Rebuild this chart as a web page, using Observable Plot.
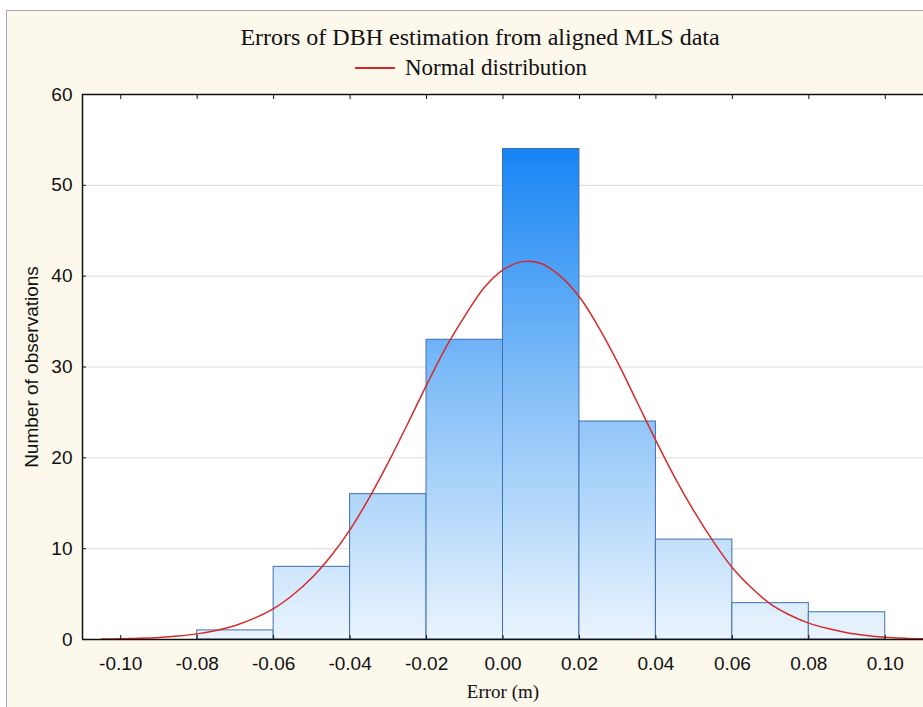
<!DOCTYPE html>
<html>
<head>
<meta charset="utf-8">
<script src="https://cdn.jsdelivr.net/npm/d3@7"></script>
<script src="https://cdn.jsdelivr.net/npm/@observablehq/plot@0.6"></script>
<style>
  body { margin: 0; background: #fff; }
  #wrap { position: relative; width: 923px; height: 707px; overflow: hidden; background: #fff; }
  #panel { position: absolute; left: 6px; top: 10px; width: 917px; height: 697px; background: #fcf8ec;
           border-left: 1px solid #a8a8a8; border-top: 1px solid #a8a8a8; }
  #title { position: absolute; top: 24px; left: 0; width: 960px; text-align: center;
           font-family: "Liberation Serif", serif; font-size: 24px; color: #111; white-space: nowrap; }
  #legend { position: absolute; top: 55px; left: 355px; font-family: "Liberation Serif", serif;
            font-size: 23px; color: #111; white-space: nowrap; display: flex; align-items: center; }
  #legend .swatch { display: inline-block; width: 40px; height: 2px; background: #d42a2a; margin-right: 10px; }
  #chart { position: absolute; left: 0; top: 84px; }
  #xlabel { position: absolute; top: 681px; left: 0; width: 1006px; text-align: center;
            font-family: "Liberation Serif", serif; font-size: 19px; color: #111; white-space: nowrap; }
</style>
</head>
<body>
<div id="wrap">
  <div id="panel"></div>
  <div id="title">Errors of DBH estimation from aligned MLS data</div>
  <div id="legend"><span class="swatch"></span><span>Normal distribution</span></div>
  <div id="chart"></div>
  <div id="xlabel">Error (m)</div>
</div>
<script>
// Histogram bins (m) and counts
const binStart = [-0.08, -0.06, -0.04, -0.02, 0.00, 0.02, 0.04, 0.06, 0.08];
const binEnd   = [-0.06, -0.04, -0.02, 0.00, 0.02, 0.04, 0.06, 0.08, 0.10];
const counts   = [1, 8, 16, 33, 54, 24, 11, 4, 3];

// Normal distribution curve
const curveX = [-0.105, -0.10, -0.095, -0.09, -0.085, -0.08, -0.075, -0.07, -0.065, -0.06, -0.055, -0.05, -0.045, -0.04, -0.035, -0.03, -0.025, -0.02, -0.015, -0.01, -0.005, 0.00, 0.005, 0.01, 0.015, 0.02, 0.025, 0.03, 0.035, 0.04, 0.045, 0.05, 0.055, 0.06, 0.065, 0.07, 0.075, 0.08, 0.085, 0.09, 0.095, 0.10, 0.105, 0.11];
const curveY = [0.05, 0.08, 0.14, 0.23, 0.38, 0.62, 1.0, 1.55, 2.35, 3.4, 4.9, 6.8, 9.2, 12.1, 15.6, 19.5, 23.7, 28.0, 32.1, 35.6, 38.7, 40.7, 41.6, 41.4, 40.0, 37.7, 34.4, 30.5, 26.2, 21.9, 17.8, 14.1, 10.8, 7.9, 5.7, 3.9, 2.7, 1.8, 1.2, 0.75, 0.45, 0.25, 0.14, 0.08];

const xTicks = [-0.10, -0.08, -0.06, -0.04, -0.02, 0.00, 0.02, 0.04, 0.06, 0.08, 0.10];
const yTicks = [0, 10, 20, 30, 40, 50, 60];
const yGrid  = [10, 20, 30, 40, 50];

const bins = binStart.map((s, i) => ({x1: s, x2: binEnd[i], y: counts[i]}));
const curve = curveX.map((x, i) => ({x, y: curveY[i]}));

const plot = Plot.plot({
  width: 923,
  height: 623,
  marginTop: 10,
  marginBottom: 68,
  marginLeft: 82,
  marginRight: 0,
  style: { fontFamily: "Liberation Sans, Arial, sans-serif", fontSize: "19px", color: "#111", background: "transparent", overflow: "visible" },
  x: { domain: [-0.11, 0.11] },
  y: { domain: [0, 60] },
  marks: [
    Plot.frame({ fill: "white", stroke: "none" }),
    Plot.gridY(yGrid, { stroke: "#dcdcdc", strokeOpacity: 1 }),
    Plot.rectY(bins, { x1: "x1", x2: "x2", y: "y", fill: "url(#barGrad)", stroke: "#3f6fae", strokeWidth: 1 }),
    Plot.line(curve, { x: "x", y: "y", stroke: "#d42a2a", strokeWidth: 1.5, curve: "catmull-rom" }),
    Plot.ruleY([0], { stroke: "#111", strokeWidth: 1.5 }),
    Plot.ruleY([60], { stroke: "#111", strokeWidth: 1.5 }),
    Plot.ruleX([-0.11], { stroke: "#111", strokeWidth: 1.5 }),
    Plot.axisX({ anchor: "bottom", ticks: xTicks, tickSize: 0, tickPadding: 17, tickFormat: d => d.toFixed(2), label: null }),
    Plot.axisX({ anchor: "bottom", ticks: xTicks, tickSize: -4, tickFormat: () => "", label: null }),
    Plot.axisX({ anchor: "top", ticks: xTicks, tickSize: -4, tickFormat: () => "", label: null }),
    Plot.axisY({ anchor: "left", ticks: yTicks, tickSize: 0, tickPadding: 10, label: "Number of observations", labelAnchor: "center", labelOffset: 58, labelArrow: "none" }),
    Plot.axisY({ anchor: "left", ticks: yTicks, tickSize: -4, tickFormat: () => "", label: null })
  ]
});

// vertical gradient shared by all bars, in plot coordinates
const ys = plot.scale("y");
const ns = "http://www.w3.org/2000/svg";
const defs = document.createElementNS(ns, "defs");
const grad = document.createElementNS(ns, "linearGradient");
grad.setAttribute("id", "barGrad");
grad.setAttribute("gradientUnits", "userSpaceOnUse");
grad.setAttribute("x1", "0"); grad.setAttribute("x2", "0");
grad.setAttribute("y1", ys.apply(0)); grad.setAttribute("y2", ys.apply(54));
[["0", "#eaf4fd"], ["0.5", "#86c0f8"], ["1", "#1684f4"]].forEach(([o, c]) => {
  const st = document.createElementNS(ns, "stop");
  st.setAttribute("offset", o); st.setAttribute("stop-color", c);
  grad.appendChild(st);
});
defs.appendChild(grad);
plot.insertBefore(defs, plot.firstChild);

document.getElementById("chart").appendChild(plot);
</script>
</body>
</html>
